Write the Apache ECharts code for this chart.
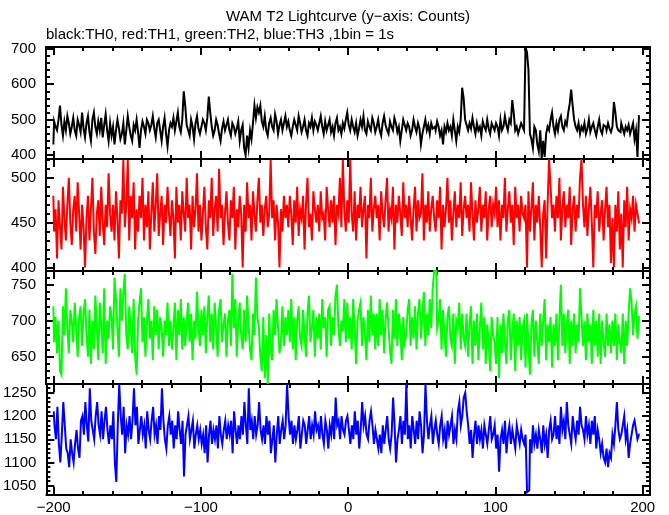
<!DOCTYPE html>
<html>
<head>
<meta charset="utf-8">
<script src="https://cdn.jsdelivr.net/npm/echarts@6/dist/echarts.min.js"></script>
<style>
html,body{margin:0;padding:0;background:#fff;}
#chart{width:669px;height:515px;}
</style>
</head>
<body>
<div id="chart"></div>
<script>
// ---- Data (1 s bins, time from -200 s to 198 s) ----
const timeStart = -200;
const th0 = [
430,495,480,470,500,540,485,455,495,470,510,490,460,480,505,470,455,500,485,465,
520,475,450,490,510,465,440,500,520,480,460,495,470,505,450,485,515,470,440,490,
455,480,430,470,500,475,445,460,490,430,470,510,480,455,440,485,470,500,465,420,
470,495,480,460,500,490,470,485,510,475,450,490,500,470,440,480,505,460,425,470,
490,480,505,470,495,520,480,465,500,580,540,485,470,455,500,480,445,490,510,475,
460,480,500,490,470,505,565,520,480,455,470,500,485,460,440,475,495,470,485,500,
470,455,490,480,460,475,495,440,470,485,420,400,455,420,470,445,490,540,505,535,
520,540,495,480,510,470,455,490,505,480,470,515,495,460,485,500,470,490,510,480,
495,470,455,480,500,485,470,510,490,465,480,500,470,455,490,480,505,470,495,485,
470,490,510,480,460,495,470,485,500,465,480,455,490,505,470,480,460,490,475,500,
520,485,470,500,480,465,490,455,475,500,480,510,470,460,495,480,470,505,490,465,
480,500,470,455,490,510,485,470,460,495,480,470,505,490,465,480,440,470,500,485,
470,490,480,455,470,500,480,465,490,475,430,460,480,500,470,485,460,490,475,480,
470,495,480,455,470,430,480,465,490,470,480,455,500,470,440,480,465,500,590,560,
500,485,470,490,475,505,480,460,490,470,480,455,495,480,470,500,475,460,490,480,
470,490,480,455,500,470,480,510,485,470,500,490,555,520,470,480,460,475,490,480,
470,705,690,640,460,445,420,480,470,430,410,470,390,440,395,460,480,470,500,520,
480,460,490,470,500,510,480,470,495,485,520,545,585,540,500,480,470,490,460,480,
470,490,460,475,500,465,480,490,470,455,480,500,470,460,485,480,470,490,475,465,
480,550,520,480,470,465,490,475,460,480,470,485,460,475,490,445,470,395,510
];
const th1 = [
480,440,465,410,475,445,420,490,455,430,470,500,450,425,465,480,440,495,460,420,
470,445,400,455,480,430,465,500,440,415,460,475,435,490,450,425,470,445,505,460,
440,470,430,485,455,410,475,460,520,445,470,520,430,480,455,495,420,465,440,480,
455,500,430,470,445,485,420,460,495,440,470,505,435,460,480,425,470,450,490,460,
435,475,455,410,490,450,470,430,485,460,440,500,455,470,420,480,445,465,505,440,
470,430,460,490,445,420,475,455,500,435,465,480,440,510,455,470,425,460,485,450,
430,475,455,490,420,465,445,480,460,400,470,440,495,455,470,430,485,460,440,475,
500,450,470,435,465,480,445,460,520,455,475,430,470,450,400,465,440,480,455,470,
445,480,460,425,475,450,490,435,465,455,480,420,470,500,445,460,430,485,465,450,
470,440,485,455,460,430,490,465,445,475,450,480,425,470,460,500,445,520,465,440,
475,450,520,460,440,485,430,470,455,490,445,465,480,410,470,455,500,440,465,480,
455,470,430,485,460,445,475,500,440,465,455,490,420,470,450,480,460,435,495,455,
470,445,480,455,430,465,490,440,475,455,460,505,430,470,450,485,440,465,480,455,
440,475,455,490,420,470,445,465,500,450,475,430,460,485,445,470,455,495,435,465,
480,455,470,440,495,460,430,475,450,465,490,440,470,455,485,430,465,480,445,470,
460,490,445,475,430,470,455,500,440,465,485,450,470,425,490,455,470,440,480,460,
455,470,400,485,440,465,495,430,470,450,480,445,400,460,475,410,470,521,490,455,
470,440,480,455,500,430,465,485,445,470,455,490,425,465,480,440,470,455,500,521,
470,445,480,435,465,490,450,400,470,455,485,440,460,475,430,465,490,445,470,405,
455,400,470,440,485,420,460,400,475,445,490,430,465,455,480,440,470,460,450
];
const th2 = [
720,670,705,655,700,630,625,720,680,745,690,655,715,700,670,725,690,650,705,720,
665,710,730,680,650,715,640,700,660,735,690,645,725,695,655,745,640,700,675,720,
705,660,760,730,690,650,745,700,740,765,680,660,720,690,655,730,650,625,700,725,
745,670,705,650,700,730,675,700,645,720,680,715,660,705,690,650,700,680,725,665,
700,660,690,725,645,715,680,730,660,705,665,700,725,670,710,645,700,675,740,690,
665,715,680,720,655,705,735,670,710,660,725,690,650,715,730,670,695,710,650,700,
715,665,765,690,730,650,700,725,680,660,715,670,735,695,660,645,710,680,760,705,
690,650,630,705,620,680,612,710,660,645,715,680,730,690,655,670,720,665,705,680,
715,670,730,660,705,645,700,720,675,665,715,680,650,710,735,670,690,715,650,705,
675,710,660,730,690,705,650,715,720,665,705,680,735,750,690,665,700,685,730,670,
725,675,705,660,730,690,640,700,715,725,665,705,680,645,715,670,735,680,710,660,
710,665,730,680,715,655,700,725,690,660,640,715,675,730,665,710,690,645,705,670,
680,715,730,665,705,675,720,660,710,730,675,705,740,665,710,680,730,690,745,769,
769,690,700,730,660,715,680,650,705,720,675,665,710,640,700,690,725,660,710,675,
665,710,650,695,720,640,700,665,710,645,690,725,660,705,640,695,670,630,705,680,
670,640,705,620,695,655,710,670,640,700,715,645,685,710,630,700,665,705,645,690,
700,635,710,665,625,695,715,650,700,670,640,710,665,700,730,645,695,670,705,635,
695,665,710,645,700,750,665,710,655,695,715,640,700,665,710,655,695,670,745,705,
665,700,645,710,670,695,640,715,665,700,650,710,640,700,670,650,710,665,695,655,
700,665,710,645,695,670,655,710,640,700,665,710,745,725,680,710,720,675,705
];
const th3 = [
1210,1180,1150,1220,1140,1100,1160,1230,1180,1130,1120,1090,1150,1120,1100,1140,1170,1130,1110,1190,
1200,1160,1230,1180,1145,1260,1190,1170,1150,1200,1230,1180,1160,1210,1150,1190,1220,1170,1140,1180,
1150,1210,1100,1058,1180,1269,1200,1160,1220,1120,1180,1160,1200,1150,1190,1260,1180,1220,1140,1170,
1200,1160,1180,1130,1210,1170,1150,1190,1220,1160,1180,1140,1200,1170,1260,1190,1150,1130,1180,1200,
1160,1190,1130,1180,1150,1210,1170,1140,1190,1070,1160,1180,1200,1150,1170,1190,1130,1160,1180,1150,
1170,1140,1160,1120,1180,1100,1160,1190,1140,1170,1150,1180,1130,1200,1160,1140,1170,1190,1150,1180,
1160,1190,1120,1210,1170,1140,1180,1150,1200,1160,1230,1180,1140,1260,1170,1190,1150,1200,1160,1180,
1230,1170,1150,1180,1140,1200,1160,1190,1120,1150,1180,1100,1160,1200,1140,1170,1190,1150,1180,1269,
1200,1160,1190,1140,1180,1150,1170,1200,1130,1160,1190,1180,1140,1170,1200,1150,1180,1160,1210,1170,
1180,1150,1200,1160,1140,1190,1170,1130,1180,1160,1200,1150,1240,1180,1190,1150,1200,1170,1160,1190,
1200,1170,1140,1180,1150,1210,1160,1190,1130,1170,1230,1180,1200,1160,1150,1190,1210,1180,1140,1170,
1150,1130,1160,1120,1180,1140,1170,1200,1150,1130,1160,1240,1180,1100,1150,1170,1200,1140,1190,1160,
1269,1150,1180,1130,1200,1170,1140,1190,1150,1210,1180,1120,1160,1269,1190,1150,1180,1200,1140,1170,
1190,1160,1140,1180,1200,1150,1170,1130,1190,1160,1180,1200,1140,1170,1150,1210,1230,1180,1200,1240,
1250,1210,1180,1140,1170,1110,1160,1190,1140,1180,1150,1170,1130,1180,1160,1140,1170,1200,1150,1160,
1180,1130,1160,1080,1150,1170,1140,1190,1120,1160,1180,1140,1170,1150,1130,1180,1160,1140,1170,1150,
1140,1160,1036,1040,1150,1120,1180,1140,1160,1130,1170,1150,1120,1180,1140,1160,1110,1170,1190,1150,
1160,1200,1150,1180,1140,1220,1170,1190,1150,1230,1180,1160,1140,1200,1170,1150,1190,1160,1220,1180,
1170,1150,1200,1160,1180,1140,1190,1160,1200,1130,1170,1150,1120,1140,1110,1100,1130,1090,1120,1110,
1160,1140,1180,1230,1170,1150,1160,1180,1200,1150,1170,1110,1140,1160,1180,1190,1170,1150,1160
];
const seriesNames = ['TH0','TH1','TH2','TH3'];
const xTickLabels = [-200,-100,0,100,200];
const yTicks0 = [400,500,600,700];
const yTicks1 = [400,450,500];
const yTicks2 = [650,700,750];
const yTicks3 = [1050,1100,1150,1200,1250];
const titleText = 'WAM T2 Lightcurve (y\u2212axis: Counts)';
const subtitleText = 'black:TH0, red:TH1, green:TH2, blue:TH3 ,1bin = 1s';

// ---- Layout / style ----
const FONT = 'Liberation Sans';
const panels = [
  {data: th0, ticks: yTicks0, minorStep: 20, min: 389, max: 705, color: '#000000', top: 47, bottom: 159},
  {data: th1, ticks: yTicks1, minorStep: 10, min: 396, max: 521, color: '#ff0000', top: 159, bottom: 271},
  {data: th2, ticks: yTicks2, minorStep: 10, min: 612, max: 769, color: '#00ff00', top: 271, bottom: 384},
  {data: th3, ticks: yTicks3, minorStep: 10, min: 1030, max: 1269, color: '#0000ff', top: 384, bottom: 496}
];
const X_MIN = -205, X_MAX = 205;
function range(a, b, s) { const r = []; for (let v = Math.ceil(a / s) * s; v <= b; v += s) r.push(v); return r; }
const xMinor = range(X_MIN, X_MAX, 20);
const fmtX = v => (v < 0 ? '\u2212' + Math.abs(v) : String(v));
const fmtY = v => String(v);

const grids = [], xAxes = [], yAxes = [], series = [];
panels.forEach((p, g) => {
  grids.push({left: 46, right: 19, top: p.top, height: p.bottom - p.top, containLabel: false});
  const baseX = {gridIndex: g, type: 'value', min: X_MIN, max: X_MAX, splitLine: {show: false}};
  const xi = xAxes.length;
  xAxes.push(Object.assign({}, baseX, {position: 'bottom',
    axisLine: {show: true, onZero: false, lineStyle: {color: '#000', width: 2}},
    axisTick: {show: true, inside: true, length: 8, customValues: xTickLabels, lineStyle: {color: '#000', width: 2}},
    axisLabel: {show: g === 3, customValues: xTickLabels, formatter: fmtX, color: '#000', fontFamily: FONT, fontSize: 15, margin: 5}}));
  xAxes.push(Object.assign({}, baseX, {position: 'bottom',
    axisLine: {show: false, onZero: false},
    axisTick: {show: true, inside: true, length: 4, customValues: xMinor, lineStyle: {color: '#000', width: 2}},
    axisLabel: {show: false}}));
  xAxes.push(Object.assign({}, baseX, {position: 'top',
    axisLine: {show: true, onZero: false, lineStyle: {color: '#000', width: 2}},
    axisTick: {show: true, inside: true, length: 8, customValues: xTickLabels, lineStyle: {color: '#000', width: 2}},
    axisLabel: {show: false}}));
  xAxes.push(Object.assign({}, baseX, {position: 'top',
    axisLine: {show: false, onZero: false},
    axisTick: {show: true, inside: true, length: 4, customValues: xMinor, lineStyle: {color: '#000', width: 2}},
    axisLabel: {show: false}}));

  const yMinor = range(p.min, p.max, p.minorStep);
  const baseY = {gridIndex: g, type: 'value', min: p.min, max: p.max, splitLine: {show: false}};
  const yi = yAxes.length;
  yAxes.push(Object.assign({}, baseY, {position: 'left',
    axisLine: {show: true, onZero: false, lineStyle: {color: '#000', width: 2}},
    axisTick: {show: true, inside: true, length: 8, customValues: p.ticks, lineStyle: {color: '#000', width: 2}},
    axisLabel: {show: true, customValues: p.ticks, formatter: fmtY, color: '#000', fontFamily: FONT, fontSize: 15, margin: 10}}));
  yAxes.push(Object.assign({}, baseY, {position: 'left',
    axisLine: {show: false, onZero: false},
    axisTick: {show: true, inside: true, length: 4, customValues: yMinor, lineStyle: {color: '#000', width: 2}},
    axisLabel: {show: false}}));
  yAxes.push(Object.assign({}, baseY, {position: 'right',
    axisLine: {show: true, onZero: false, lineStyle: {color: '#000', width: 2}},
    axisTick: {show: true, inside: true, length: 8, customValues: p.ticks, lineStyle: {color: '#000', width: 2}},
    axisLabel: {show: false}}));
  yAxes.push(Object.assign({}, baseY, {position: 'right',
    axisLine: {show: false, onZero: false},
    axisTick: {show: true, inside: true, length: 4, customValues: yMinor, lineStyle: {color: '#000', width: 2}},
    axisLabel: {show: false}}));

  series.push({
    name: seriesNames[g], type: 'line', step: 'middle', xAxisIndex: xi, yAxisIndex: yi,
    showSymbol: false, symbol: 'none', clip: true, smooth: false,
    lineStyle: {color: p.color, width: 2, join: 'miter', cap: 'butt'},
    data: p.data.map((v, i) => [timeStart + i, v])
  });
});

const chart = echarts.init(document.getElementById('chart'), null, {renderer: 'canvas'});
chart.setOption({
  animation: false,
  backgroundColor: '#ffffff',
  title: [
    {text: titleText, left: 348, top: 9, textAlign: 'center', padding: 0,
     textStyle: {fontFamily: FONT, fontSize: 15, fontWeight: 'normal', color: '#000'}},
    {text: subtitleText, left: 46, top: 27, padding: 0,
     textStyle: {fontFamily: FONT, fontSize: 15, fontWeight: 'normal', color: '#000'}}
  ],
  grid: grids,
  xAxis: xAxes,
  yAxis: yAxes,
  series: series
});
</script>
</body>
</html>
